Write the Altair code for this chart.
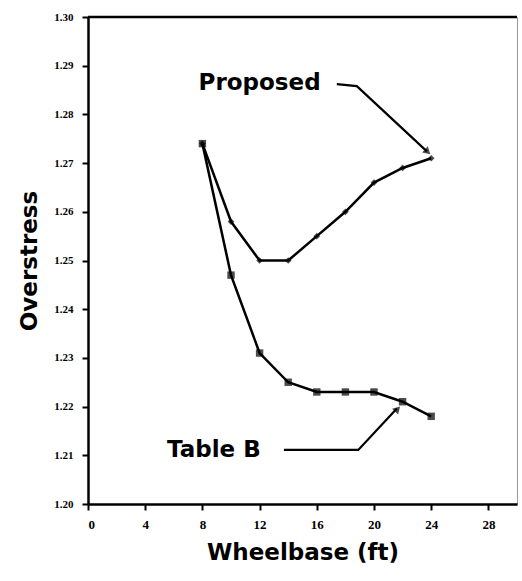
import altair as alt
import pandas as pd

# Wheelbase (ft) and overstress ratios for the two methods
wheelbase = [8, 10, 12, 14, 16, 18, 20, 22, 24]
proposed = [1.274, 1.258, 1.250, 1.250, 1.255, 1.260, 1.266, 1.269, 1.271]
table_b = [1.274, 1.247, 1.231, 1.225, 1.223, 1.223, 1.223, 1.221, 1.218]

x_ticks = list(range(0, 30, 2))
y_ticks = [1.20, 1.21, 1.22, 1.23, 1.24, 1.25, 1.26, 1.27, 1.28, 1.29, 1.30]

# Callout labels and their leader lines (data coordinates)
label_names = ["Proposed", "Table B"]
label_x = [12.0, 8.8]
label_y = [1.2864, 1.2111]
leader_id = ["p", "p", "p", "t", "t", "t"]
leader_order = [0, 1, 2, 0, 1, 2]
leader_x = [17.4, 18.8, 23.7, 13.7, 18.9, 21.6]
leader_y = [1.2862, 1.2858, 1.2724, 1.2111, 1.2111, 1.2196]
head_x = [23.75, 21.65]
head_y = [1.2723, 1.2195]
head_angle = [42, 313]

FONT = "DejaVu Sans"
TICK_FONT = "Liberation Sans Narrow"

curves = pd.DataFrame({
    "wheelbase": wheelbase * 2,
    "overstress": proposed + table_b,
    "method": ["Proposed"] * len(wheelbase) + ["Table B"] * len(wheelbase),
})
labels = pd.DataFrame({"name": label_names, "x": label_x, "y": label_y})
leaders = pd.DataFrame({"id": leader_id, "o": leader_order, "x": leader_x, "y": leader_y})
heads = pd.DataFrame({"x": head_x, "y": head_y, "angle": head_angle})

x_scale = alt.Scale(domain=[0, 30], nice=False, zero=False)
y_scale = alt.Scale(domain=[1.20, 1.30], nice=False, zero=False)

x_axis = alt.Axis(
    title="Wheelbase (ft)", values=x_ticks,
    labelExpr="datum.value % 4 == 0 ? datum.label : ''",
    grid=False, domainColor="black", domainWidth=2.5,
    tickColor="black", tickSize=6, tickWidth=2,
    labelFont=TICK_FONT, labelFontWeight="bold", labelFontSize=13, labelColor="black",
    labelPadding=8,
    titleFont=FONT, titleFontWeight="bold", titleFontSize=23, titleColor="black",
    titlePadding=10,
)
y_axis = alt.Axis(
    title="Overstress", values=y_ticks, format=".2f",
    grid=False, domainColor="black", domainWidth=2.5,
    tickColor="black", tickSize=6, tickWidth=2,
    labelFont=TICK_FONT, labelFontWeight="bold", labelFontSize=11, labelColor="black",
    labelPadding=9,
    titleFont=FONT, titleFontWeight="bold", titleFontSize=23, titleColor="black",
    titlePadding=12,
)

base = alt.Chart(curves).encode(
    x=alt.X("wheelbase:Q", scale=x_scale, axis=x_axis),
    y=alt.Y("overstress:Q", scale=y_scale, axis=y_axis),
    detail="method:N",
)

lines = base.mark_line(color="black", strokeWidth=2.5)

prop_pts = base.transform_filter(alt.datum.method == "Proposed").mark_point(
    shape="diamond", filled=True, color="black", size=45
)
tb_pts = base.transform_filter(alt.datum.method == "Table B").mark_point(
    shape="square", filled=True, color="black", size=55
)

text = alt.Chart(labels).mark_text(
    font=FONT, fontWeight="bold", fontSize=23, color="black"
).encode(x=alt.X("x:Q", scale=x_scale), y=alt.Y("y:Q", scale=y_scale), text="name:N")

leader_lines = alt.Chart(leaders).mark_line(color="black", strokeWidth=2.2).encode(
    x=alt.X("x:Q", scale=x_scale), y=alt.Y("y:Q", scale=y_scale),
    detail="id:N", order="o:Q",
)

arrow_heads = alt.Chart(heads).mark_point(
    shape="triangle-right", filled=True, color="black", size=70
).encode(
    x=alt.X("x:Q", scale=x_scale), y=alt.Y("y:Q", scale=y_scale),
    angle=alt.Angle("angle:Q", scale=None),
)

top_rule = alt.Chart(pd.DataFrame({"x": [0], "x2": [30], "y": [1.30]})).mark_rule(
    color="black", strokeWidth=2.5
).encode(
    x=alt.X("x:Q", scale=x_scale), x2="x2:Q", y=alt.Y("y:Q", scale=y_scale)
)

chart = alt.layer(
    top_rule, lines, prop_pts, tb_pts, leader_lines, arrow_heads, text
).properties(
    width=429, height=487,
    autosize=alt.AutoSizeParams(type="none"),
    padding={"left": 88, "top": 17, "right": 5, "bottom": 77},
    background="white",
).configure_view(stroke="#999999", strokeWidth=1)

chart.save("out.html", embed_options={"renderer": "svg", "actions": False})
